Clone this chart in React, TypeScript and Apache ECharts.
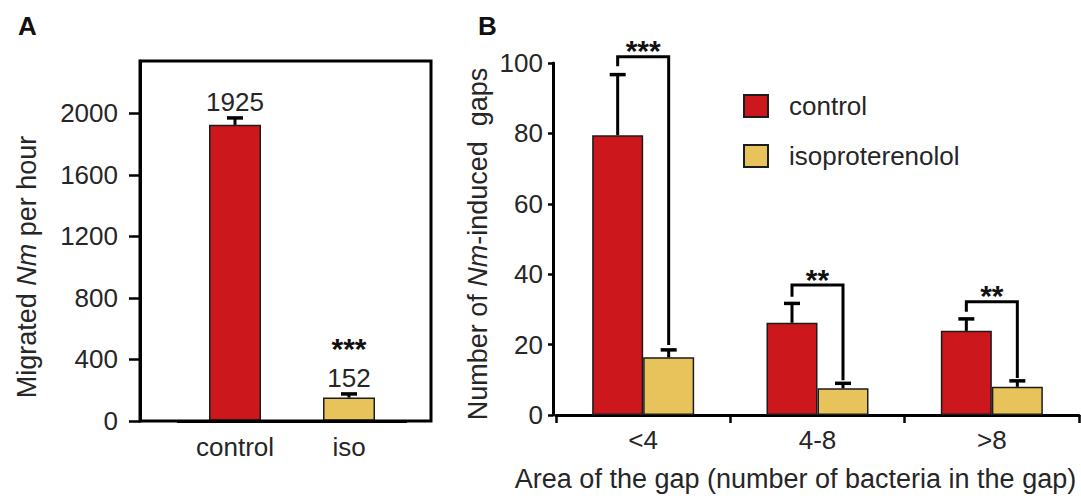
import React, { useEffect, useRef } from 'react';
import * as echarts from 'echarts';

const RED = '#CC171D';
const YELLOW = '#E8C35B';
const EDGE = '#1c1c1c';
const INK = '#262626';
const FONT = '"Liberation Sans", Arial, Helvetica, sans-serif';

// Panel A
const catsA = ['control', 'iso'];
const valuesA = [1925, 152];
const errorsA = [45, 24];
const sigA = ['', '***'];
const ticksA = [0, 400, 800, 1200, 1600, 2000];

// Panel B
const catsB = ['<4', '4-8', '>8'];
const controlB = [79.5, 26.2, 23.9];
const controlErrB = [17.2, 5.5, 3.4];
const isoB = [16.4, 7.6, 8.0];
const isoErrB = [2.1, 1.4, 1.7];
const bracketTopB = [101.8, 36.9, 32.2];
const bracketLeftEndB = [99.1, 33.6, 29.3];
const bracketRightEndB = [19.9, 9.9, 10.5];
const sigB = ['***', '**', '**'];
const ticksB = [0, 20, 40, 60, 80, 100];

const BAR_W_A = 52;
const BAR_W_B = 51;
const CAP = 16;

export default function App() {
  const ref = useRef<HTMLDivElement>(null);

  useEffect(() => {
    document.body.style.margin = '0';
    if (!ref.current) return;
    const chart = echarts.init(ref.current, null, { renderer: 'svg' });

    const errBar = (x: number, y0: number, y1: number) => [
      { type: 'line', shape: { x1: x, y1: y0, x2: x, y2: y1 }, style: { stroke: '#000', lineWidth: 3 } },
      { type: 'line', shape: { x1: x - CAP / 2, y1: y1, x2: x + CAP / 2, y2: y1 }, style: { stroke: '#000', lineWidth: 3.5 } },
    ];

    const errRenderB = (sign: number) => (params: any, api: any) => {
      const c = api.value(0), v = api.value(1), e = api.value(2);
      const p0 = api.coord([c, v]);
      const p1 = api.coord([c, v + e]);
      const x = p0[0] + (sign * BAR_W_B) / 2;
      return { type: 'group', children: errBar(x, p0[1], p1[1]) };
    };

    const axisNameRich = (size: number) => ({
      a: { fontSize: size, fontFamily: FONT, color: INK },
      i: { fontSize: size, fontFamily: FONT, color: INK, fontStyle: 'italic' },
    });

    const plain = (v: number) => String(v);

    const option: any = {
      animation: false,
      backgroundColor: '#fff',
      title: [
        { text: 'A', left: 13, top: 8, textStyle: { fontSize: 26, fontWeight: 'bold', fontFamily: FONT, color: '#111' } },
        { text: 'B', left: 473, top: 8, textStyle: { fontSize: 26, fontWeight: 'bold', fontFamily: FONT, color: '#111' } },
      ],
      legend: {
        data: ['control', 'isoproterenolol'],
        orient: 'vertical',
        left: 743,
        top: 93,
        padding: 0,
        itemWidth: 24,
        itemHeight: 22,
        itemGap: 24,
        icon: 'rect',
        textStyle: { fontSize: 26, color: INK, fontFamily: FONT, padding: [0, 0, 0, 16], lineHeight: 22 },
      },
      grid: [
        { left: 178, top: 61, width: 228, height: 360 },
        { left: 556, top: 63, width: 523, height: 352 },
      ],
      xAxis: [
        {
          type: 'category',
          gridIndex: 0,
          data: catsA,
          axisLine: { lineStyle: { color: '#000', width: 3 } },
          axisTick: { show: false },
          axisLabel: { fontSize: 26, color: INK, fontFamily: FONT, margin: 13 },
        },
        {
          type: 'category',
          gridIndex: 1,
          data: catsB,
          axisLine: { lineStyle: { color: '#000', width: 3 } },
          axisTick: { show: true, length: 8, lineStyle: { color: '#000', width: 2.5 } },
          axisLabel: { fontSize: 26, color: INK, fontFamily: FONT, margin: 12 },
          name: 'Area of the gap (number of bacteria in the gap)',
          nameLocation: 'middle',
          nameGap: 50,
          nameTextStyle: { fontSize: 27, color: INK, fontFamily: FONT, padding: [0, 44, 0, 0] },
        },
      ],
      yAxis: [
        {
          type: 'value',
          gridIndex: 0,
          min: 0,
          max: 2340,
          interval: 400,
          offset: 38,
          splitLine: { show: false },
          axisLine: { show: true, lineStyle: { color: '#000', width: 3 } },
          axisTick: { show: true, length: 11, customValues: ticksA, lineStyle: { color: '#000', width: 2.5 } },
          axisLabel: { fontSize: 26, color: INK, fontFamily: FONT, margin: 22, customValues: ticksA, formatter: plain },
          name: '{a|Migrated }{i|Nm}{a| per hour}',
          nameLocation: 'middle',
          nameRotate: 90,
          nameGap: 100,
          nameTextStyle: { rich: axisNameRich(27), padding: [0, 52, 0, 0] },
        },
        {
          type: 'value',
          gridIndex: 1,
          min: 0,
          max: 100,
          interval: 20,
          offset: 3,
          splitLine: { show: false },
          axisLine: { show: true, lineStyle: { color: '#000', width: 3 } },
          axisTick: { show: true, length: 5, customValues: ticksB, lineStyle: { color: '#000', width: 2.5 } },
          axisLabel: { fontSize: 26, color: INK, fontFamily: FONT, margin: 10, customValues: ticksB, formatter: plain },
          name: '{a|Number of }{i|Nm}{a|-induced  gaps}',
          nameLocation: 'middle',
          nameRotate: 90,
          nameGap: 62,
          nameTextStyle: { rich: axisNameRich(27), padding: [0, 10, 0, 0] },
        },
      ],
      graphic: [
        {
          type: 'rect',
          shape: { x: 140, y: 61, width: 291, height: 360 },
          style: { fill: 'none', stroke: '#000', lineWidth: 3 },
          z: 100,
        },
      ],
      series: [
        {
          type: 'bar',
          name: 'migrated',
          xAxisIndex: 0,
          yAxisIndex: 0,
          barWidth: BAR_W_A,
          data: valuesA.map((v, i) => ({ value: v, itemStyle: { color: i === 0 ? RED : YELLOW } })),
          itemStyle: { borderColor: EDGE, borderWidth: 1.5 },
          z: 2,
        },
        {
          type: 'custom',
          name: 'migrated-err',
          xAxisIndex: 0,
          yAxisIndex: 0,
          encode: { x: 0, y: 1 },
          data: valuesA.map((v, i) => [i, v, errorsA[i]]),
          renderItem: (params: any, api: any) => {
            const c = api.value(0), v = api.value(1), e = api.value(2);
            const p0 = api.coord([c, v]);
            const p1 = api.coord([c, v + e]);
            const children: any[] = errBar(p0[0], p0[1], p1[1]);
            children.push({
              type: 'text',
              x: p0[0],
              y: p1[1] - 16,
              style: { text: String(valuesA[params.dataIndex]), align: 'center', verticalAlign: 'middle', fontSize: 26, lineHeight: 24, fontFamily: FONT, fill: INK },
            });
            if (sigA[params.dataIndex]) {
              children.push({
                type: 'text',
                x: p0[0],
                y: p1[1] - 45,
                style: { text: sigA[params.dataIndex], align: 'center', verticalAlign: 'middle', fontSize: 30, lineHeight: 20, fontWeight: 'bold', fontFamily: FONT, fill: '#111' },
              });
            }
            return { type: 'group', children };
          },
          z: 3,
        },
        {
          type: 'bar',
          name: 'control',
          xAxisIndex: 1,
          yAxisIndex: 1,
          barWidth: BAR_W_B,
          barGap: '0%',
          data: controlB,
          itemStyle: { color: RED, borderColor: EDGE, borderWidth: 1.5 },
          z: 2,
        },
        {
          type: 'bar',
          name: 'isoproterenolol',
          xAxisIndex: 1,
          yAxisIndex: 1,
          barWidth: BAR_W_B,
          barGap: '0%',
          data: isoB,
          itemStyle: { color: YELLOW, borderColor: EDGE, borderWidth: 1.5 },
          z: 2,
        },
        {
          type: 'custom',
          name: 'control-err',
          xAxisIndex: 1,
          yAxisIndex: 1,
          encode: { x: 0, y: 1 },
          data: controlB.map((v, i) => [i, v, controlErrB[i]]),
          renderItem: errRenderB(-1),
          z: 3,
        },
        {
          type: 'custom',
          name: 'iso-err',
          xAxisIndex: 1,
          yAxisIndex: 1,
          encode: { x: 0, y: 1 },
          data: isoB.map((v, i) => [i, v, isoErrB[i]]),
          renderItem: errRenderB(1),
          z: 3,
        },
        {
          type: 'custom',
          name: 'significance',
          xAxisIndex: 1,
          yAxisIndex: 1,
          encode: { x: 0, y: 1 },
          data: bracketTopB.map((t, i) => [i, t, bracketLeftEndB[i], bracketRightEndB[i]]),
          renderItem: (params: any, api: any) => {
            const c = api.value(0), top = api.value(1), le = api.value(2), re = api.value(3);
            const pt = api.coord([c, top]);
            const pl = api.coord([c, le]);
            const pr = api.coord([c, re]);
            const xl = pt[0] - BAR_W_B / 2;
            const xr = pt[0] + BAR_W_B / 2;
            return {
              type: 'group',
              children: [
                {
                  type: 'polyline',
                  shape: { points: [[xl, pl[1]], [xl, pt[1]], [xr, pt[1]], [xr, pr[1]]] },
                  style: { stroke: '#000', lineWidth: 3, fill: 'none' },
                },
                {
                  type: 'text',
                  x: pt[0],
                  y: pt[1] - 6,
                  style: { text: sigB[params.dataIndex], align: 'center', verticalAlign: 'middle', fontSize: 30, lineHeight: 20, fontWeight: 'bold', fontFamily: FONT, fill: '#111' },
                },
              ],
            };
          },
          z: 4,
        },
      ],
    };

    chart.setOption(option);
    return () => chart.dispose();
  }, []);

  return <div ref={ref} style={{ width: 1081, height: 498 }} />;
}
